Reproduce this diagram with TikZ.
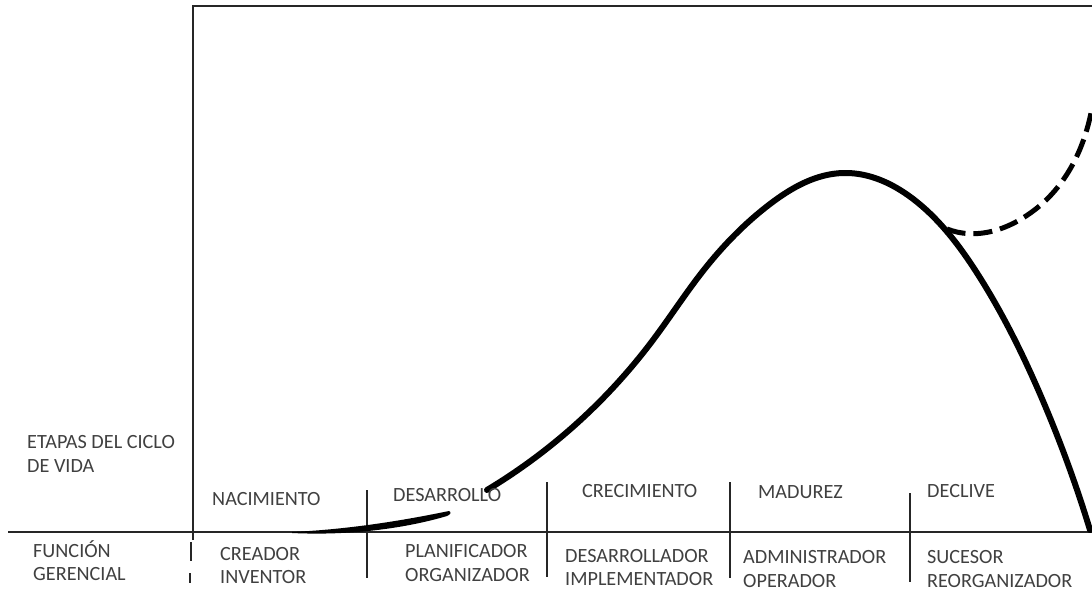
\documentclass[tikz,border=0pt]{standalone}
\usepackage{fontspec}
\usetikzlibrary{hobby}
\setmainfont{Carlito}
\begin{document}
\begin{tikzpicture}[x=1pt,y=-1pt,
  lbl/.style={anchor=base west,inner sep=0pt,text=black!75,font=\fontsize{20.2}{24}\selectfont},
  frame/.style={line width=1.8pt,black!85},
  tick/.style={line width=1.8pt,black!85},
  curve/.style={line width=6pt,black,line cap=round},
  dashcurve/.style={line width=5pt,black,dash pattern=on 19pt off 8pt}]
\useasboundingbox (0,0) rectangle (1092,591);
% frame and axis
\draw[frame] (193,540) -- (193,6) -- (1092,6);
\draw[frame] (8,532) -- (1092,532);
\draw[tick] (191,542) -- (191,561);
\draw[tick] (190,573) -- (190,583);
\draw[tick] (367,490) -- (367,578);
\draw[tick] (547,482) -- (547,577);
\draw[tick] (730,482) -- (730,578);
\draw[tick] (910,493) -- (910,582);
% tapered start stroke
\fill[black] (292,532) .. controls (355,529) and (410,519) .. (449,511)
  .. controls (452,512) and (450,515) .. (447,516)
  .. controls (410,527) and (355,536) .. (292,533) -- cycle;
% main curve
\draw[curve, use Hobby shortcut] (487,490) .. (587,414) .. (653,340) .. (703,271)
  .. (770,204) .. (843,173) .. (917,202) .. (977,273) .. (1040,394) .. (1090,530);
% dashed curve
\draw[dashcurve] (947,229) .. controls (975,240) and (1010,232) .. (1043,203)
  .. controls (1070,178) and (1085,145) .. (1092,108);
% labels
\node[lbl] (etapas1) at (27,448) {ETAPAS DEL CICLO};
\node[lbl] (etapas2) at (27,472) {DE VIDA};
\node[lbl] (funcion1) at (33,557) {FUNCIÓN};
\node[lbl] (funcion2) at (33,580) {GERENCIAL};
\node[lbl] (nac) at (212,505) {NACIMIENTO};
\node[lbl] (des) at (393,501) {DESARROLLO};
\node[lbl] (cre) at (582,497) {CRECIMIENTO};
\node[lbl] (mad) at (758,498) {MADUREZ};
\node[lbl] (dec) at (927,497) {DECLIVE};
\node[lbl] (f1a) at (220,560) {CREADOR};
\node[lbl] (f1b) at (220,583) {INVENTOR};
\node[lbl] (f2a) at (405,557) {PLANIFICADOR};
\node[lbl] (f2b) at (405,581) {ORGANIZADOR};
\node[lbl] (f3a) at (565,562) {DESARROLLADOR};
\node[lbl] (f3b) at (565,585) {IMPLEMENTADOR};
\node[lbl] (f4a) at (743,563) {ADMINISTRADOR};
\node[lbl] (f4b) at (743,587) {OPERADOR};
\node[lbl] (f5a) at (927,563) {SUCESOR};
\node[lbl] (f5b) at (927,587) {REORGANIZADOR};
\end{tikzpicture}
\end{document}
